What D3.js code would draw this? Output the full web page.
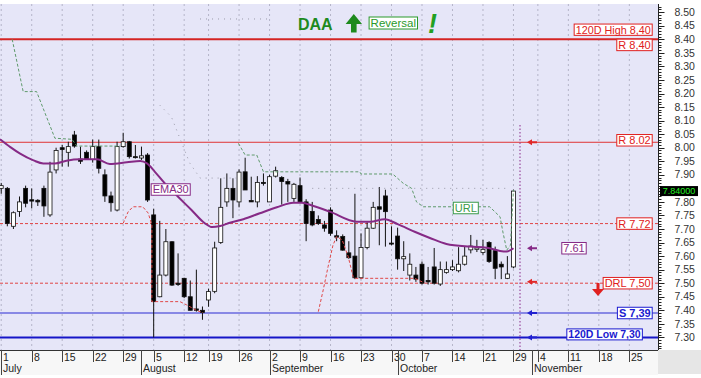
<!doctype html>
<html>
<head>
<script src="https://cdnjs.cloudflare.com/ajax/libs/d3/7.8.5/d3.min.js"></script>
<style>
  body { margin: 0; background: #ffffff; }
  text { font-family: "Liberation Sans", Arial, sans-serif; }
</style>
</head>
<body>
<svg id="chart" width="701" height="378"></svg>
<script>
// trading days shown on the axis (Aug 15 and Oct 28 closed)
var months = ["July", "August", "September", "October", "November"];
var tradingDays = [
  [1,2,3,4,5,8,9,10,11,12,15,16,17,18,19,22,23,24,25,26,29,30,31],
  [1,2,5,6,7,8,9,12,13,14,16,19,20,21,22,23,26,27,28,29,30],
  [2,3,4,5,6,9,10,11,12,13,16,17,18,19,20,23,24,25,26,27,30],
  [1,2,3,4,7,8,9,10,11,14,15,16,17,18,21,22,23,24,25,29,30,31],
  [1,4,5,6,7,8,11,12,13,14,15,18,19,20,21,22,25,26,27,28,29]
];

// daily candles, July 1 .. October 29
var open  = [7.85,7.85,7.71,7.765,7.85,7.808,7.806,7.85,7.752,7.918,8.00,7.983,8.047,7.958,7.983,7.957,8.004,7.90,7.822,7.77,8.004,8.022,7.967,7.962,7.973,
             7.752,7.45,7.53,7.653,7.50,7.518,7.45,7.405,7.40,7.438,7.47,7.65,7.80,7.85,7.80,7.911,7.805,7.80,7.872,
             7.80,7.895,7.89,7.875,7.813,7.86,7.80,7.765,7.735,7.715,7.77,7.675,7.672,7.612,7.60,7.52,7.632,7.703,7.782,7.822,7.648,
             7.674,7.59,7.53,7.53,7.57,7.51,7.56,7.497,7.54,7.55,7.546,7.57,7.623,7.625,7.613,7.65,7.62,7.57,7.518,7.56];
var high  = [7.87,7.855,7.765,7.82,7.86,7.85,7.81,7.86,7.948,8.00,8.01,8.022,8.062,8.004,7.99,8.03,8.03,7.92,7.838,8.022,8.055,8.025,8.01,8.004,7.98,
             7.775,7.73,7.70,7.655,7.61,7.52,7.51,7.55,7.414,7.48,7.653,7.887,7.905,7.887,7.92,7.963,7.893,7.895,7.905,
             7.90,7.93,7.895,7.885,7.87,7.89,7.81,7.80,7.75,7.73,7.78,7.695,7.68,7.655,7.83,7.684,7.725,7.80,7.855,7.845,7.71,
             7.705,7.655,7.61,7.56,7.58,7.56,7.63,7.58,7.58,7.585,7.633,7.635,7.678,7.66,7.66,7.655,7.635,7.58,7.60,7.845];
var low   = [7.83,7.71,7.70,7.745,7.78,7.776,7.785,7.745,7.745,7.905,7.93,7.93,8.00,7.94,7.955,7.945,7.905,7.80,7.764,7.765,8.00,7.96,7.96,7.955,7.80,
             7.30,7.448,7.525,7.49,7.49,7.445,7.40,7.395,7.365,7.413,7.463,7.645,7.782,7.74,7.78,7.844,7.80,7.78,7.86,
             7.80,7.89,7.79,7.80,7.80,7.80,7.655,7.71,7.715,7.69,7.675,7.655,7.62,7.59,7.515,7.515,7.625,7.70,7.64,7.635,7.64,
             7.55,7.545,7.51,7.505,7.495,7.495,7.495,7.49,7.535,7.545,7.54,7.565,7.61,7.615,7.605,7.575,7.515,7.515,7.515,7.555];
var close = [7.86,7.72,7.76,7.80,7.795,7.803,7.80,7.785,7.91,7.99,7.993,8.004,8.006,7.95,7.958,8.004,7.924,7.822,7.797,8.004,8.022,7.967,7.965,7.97,7.807,
             7.432,7.53,7.653,7.493,7.495,7.45,7.40,7.40,7.392,7.469,7.63,7.78,7.85,7.807,7.91,7.844,7.80,7.872,7.868,
             7.893,7.915,7.875,7.866,7.865,7.80,7.72,7.715,7.72,7.703,7.684,7.67,7.622,7.594,7.52,7.632,7.703,7.78,7.773,7.764,7.645,
             7.59,7.598,7.57,7.515,7.50,7.505,7.50,7.55,7.55,7.56,7.57,7.60,7.637,7.63,7.625,7.58,7.555,7.56,7.534,7.84];

// EMA30, [day index, value]
var ema30 = [[-0.2,8.031],[1.5,8.002],[3.1,7.978],[5.3,7.953],[6.9,7.942],[8.8,7.942],[10.7,7.952],[12.9,7.957],[15.7,7.957],
             [17.8,7.940],[20.6,7.946],[22.8,7.951],[23.9,7.942],[25.2,7.911],[26.8,7.869],[29,7.819],[31.2,7.770],[33.4,7.721],
             [34.6,7.707],[35.9,7.711],[37.5,7.723],[39.7,7.736],[42.4,7.758],[45.2,7.780],[47.9,7.797],[49.3,7.797],[51.2,7.785],
             [53.9,7.764],[58.3,7.727],[60.5,7.727],[62.9,7.736],[65,7.718],[67.8,7.690],[70.3,7.667],[73,7.645],[76.9,7.635],
             [79.6,7.631],[81.8,7.619],[82.9,7.617],[84,7.629]];

// reversal levels (stepped trails)
var urlA = [[1.8,8.40],[3.6,8.207],[5.8,8.207],[8.8,8.035],[11.6,8.031],[12.4,8.006],[19.5,8.006]];
var urlB = [[38.9,8.016],[40,7.973],[41.9,7.973],[43,7.911],[58.8,7.911],[59,7.903],[64.2,7.903],[65.9,7.869],[67.3,7.85],
            [68.1,7.80],[69.2,7.782],[80.1,7.782],[81.8,7.745],[82.3,7.685],[82.9,7.622],[83.5,7.64],[84,7.844]];
var drlA = [[20,7.721],[20.8,7.763],[21.6,7.782],[23.2,7.782],[24.1,7.759],[24.7,7.715],[24.7,7.432],[29.3,7.432],
            [30.4,7.42],[32,7.40],[33.1,7.391]];
var drlB = [[52,7.395],[52.8,7.475],[53.6,7.561],[54.4,7.64],[55,7.672],[55.9,7.66],[56.9,7.598],[57.7,7.524],
            [58,7.518],[67.8,7.518],[69.5,7.50]];
var greyA = [[32.6,8.475],[44.3,8.475]];
var greyB = [[26,8.157],[27.9,8.114],[30.9,7.944],[32.6,7.888],[40,7.888]];
var greyC = [[51,7.85],[83.4,7.85]];

// horizontal levels
var levelValues = [8.40, 8.02, 7.72, 7.50, 7.39, 7.30];
var levelLabels = ["R 8,40", "R 8.02", "R 7,72", "DRL 7,50", "S 7,39", "120D Low 7,30"];
var highLabel = "120D High 8,40";
var emaLabel = "7.61";
var lastPrice = "7.84000";
// 7.85 sits under the last-price box, so it is not printed
var yTickValues = [7.30,7.35,7.40,7.45,7.50,7.55,7.60,7.65,7.70,7.75,7.80,7.90,7.95,8.00,
                   8.05,8.10,8.15,8.20,8.25,8.30,8.35,8.40,8.45,8.50];

var svg = d3.select("#chart");
var W = 658, T = 4, B = 350;
var x = d3.scaleLinear().domain([-0.2, 107.7]).range([0, W]);
var y = d3.scaleLinear().domain([7.30, 8.40]).range([337.4, 39.3]);

var days = [];
tradingDays.forEach(function(list, m) {
  list.forEach(function(d) { days.push({m: m, d: d, date: new Date(2019, 6 + m, d)}); });
});
var weekStarts = days.map(function(d, i) { return i; }).filter(function(i) {
  return i == 0 || days[i].date.getDay() < days[i - 1].date.getDay();
});
var monthStarts = days.map(function(d, i) { return i; }).filter(function(i) {
  return i == 0 || days[i].m != days[i - 1].m;
});

svg.append("rect").attr("x", 0).attr("y", T).attr("width", W).attr("height", B - T).attr("fill", "#e6e6f8");
svg.append("clipPath").attr("id", "clip").append("rect").attr("x", 0).attr("y", T).attr("width", W).attr("height", B - T);
var plot = svg.append("g").attr("clip-path", "url(#clip)");

// vertical grid
plot.selectAll("line.grid").data(weekStarts).join("line")
  .attr("x1", function(i) { return x(i); }).attr("x2", function(i) { return x(i); })
  .attr("y1", T).attr("y2", B)
  .attr("stroke", "#a8a8bc").attr("stroke-width", 0.8).attr("stroke-dasharray", "2,3");

// levels
var levelStyle = [
  {c: "#d42424", w: 2, dash: null},
  {c: "#e03434", w: 1, dash: null},
  {c: "#e04444", w: 1, dash: "3,2"},
  {c: "#e04444", w: 1, dash: "3,2"},
  {c: "#2a2ad2", w: 1, dash: null},
  {c: "#1616c8", w: 2, dash: null}
];
plot.selectAll("line.level").data(levelValues).join("line")
  .attr("x1", 0).attr("x2", W)
  .attr("y1", function(v) { return y(v); }).attr("y2", function(v) { return y(v); })
  .attr("stroke", function(v, i) { return levelStyle[i].c; })
  .attr("stroke-width", function(v, i) { return levelStyle[i].w; })
  .attr("stroke-dasharray", function(v, i) { return levelStyle[i].dash; });

// candles
var candles = close.map(function(c, i) { return {i: i, o: open[i], h: high[i], l: low[i], c: c}; });
plot.selectAll("line.wick").data(candles).join("line")
  .attr("x1", function(d) { return x(d.i); }).attr("x2", function(d) { return x(d.i); })
  .attr("y1", function(d) { return y(d.h); }).attr("y2", function(d) { return y(d.l); })
  .attr("stroke", "#111").attr("stroke-width", 1);
plot.selectAll("rect.body").data(candles).join("rect")
  .attr("x", function(d) { return x(d.i) - 2; }).attr("width", 4)
  .attr("y", function(d) { return y(Math.max(d.o, d.c)); })
  .attr("height", function(d) { return Math.max(1, Math.abs(y(d.o) - y(d.c))); })
  .attr("fill", function(d) { return d.c >= d.o ? "#ffffff" : "#000000"; })
  .attr("stroke", "#111").attr("stroke-width", 0.8);

var line = d3.line().x(function(p) { return x(p[0]); }).y(function(p) { return y(p[1]); });
[greyA, greyB, greyC].forEach(function(s) {
  plot.append("path").attr("d", line(s)).attr("fill", "none")
    .attr("stroke", "#9a9aa8").attr("stroke-width", 1).attr("stroke-dasharray", "1,5");
});
[drlA, drlB].forEach(function(s) {
  plot.append("path").attr("d", line(s)).attr("fill", "none")
    .attr("stroke", "#e04848").attr("stroke-width", 1).attr("stroke-dasharray", "3,2");
});
[urlA, urlB].forEach(function(s) {
  plot.append("path").attr("d", line(s)).attr("fill", "none")
    .attr("stroke", "#5f9a6c").attr("stroke-width", 1).attr("stroke-dasharray", "3,2");
});
plot.append("path").attr("d", line.curve(d3.curveMonotoneX)(ema30)).attr("fill", "none")
  .attr("stroke", "#862a86").attr("stroke-width", 2);

// today marker
plot.append("line").attr("x1", 520).attr("x2", 520).attr("y1", 125).attr("y2", B)
  .attr("stroke", "#8a2a8a").attr("stroke-width", 1).attr("stroke-dasharray", "1.5,2");

// little arrows pointing at the levels
var arrowLevels = [[8.02, "#e02828"], [7.629, "#862a86"], [7.505, "#e02828"], [7.39, "#2020d0"], [7.30, "#2020d0"]];
arrowLevels.forEach(function(a) {
  var yy = y(a[0]);
  svg.append("path").attr("d", "M527," + yy + "L532," + (yy - 3) + "L532," + (yy + 3) + "Z").attr("fill", a[1]);
  svg.append("line").attr("x1", 531).attr("x2", 537).attr("y1", yy).attr("y2", yy)
    .attr("stroke", a[1]).attr("stroke-width", 2);
});

// red down arrow
svg.append("rect").attr("x", 596.5).attr("y", 283).attr("width", 3).attr("height", 6).attr("fill", "#e02020");
svg.append("path").attr("d", "M592,289L604,289L598,296Z").attr("fill", "#e02020");

function tag(txt, xp, cy, anchor, color, weight, size) {
  size = size || 11;
  var g = svg.append("g");
  var t = g.append("text").attr("x", xp).attr("y", cy).attr("dy", "0.36em").attr("text-anchor", anchor)
    .attr("fill", color).style("font-size", size + "px").style("font-weight", weight).text(txt);
  var b = t.node().getBBox();
  var h = size + 0.5;
  g.insert("rect", "text").attr("x", b.x - 1.5).attr("y", cy - h / 2).attr("width", b.width + 3).attr("height", h)
    .attr("fill", "#ffffff").attr("stroke", color).attr("stroke-width", 1);
}
tag(highLabel, 650.7, y(8.40) - 9.6, "end", "#e02020", "normal", 10.8);
tag(levelLabels[0], 650.7, y(8.40) + 5.6, "end", "#e02020", "normal");
tag(levelLabels[1], 650.7, y(8.02) - 2, "end", "#e02020", "normal");
tag(levelLabels[2], 650.7, y(7.72), "end", "#e02020", "normal");
tag(levelLabels[3], 650.7, y(7.50), "end", "#e02020", "normal");
tag(levelLabels[4], 650.7, y(7.39), "end", "#1a1ad0", "bold");
tag(levelLabels[5], 640.7, y(7.30) - 3, "end", "#1a1ad0", "bold", 10.5);
tag(emaLabel, 574, y(7.629), "middle", "#862a86", "normal");
tag("EMA30", 170.7, 189.5, "middle", "#862a86", "normal");
tag("URL", 465.8, 208, "middle", "#3a9a4a", "normal");

// title
svg.append("text").attr("x", 298).attr("y", 30).attr("fill", "#1e8a1e")
  .style("font-size", "16px").style("font-weight", "bold").text("DAA");
svg.append("path").attr("d", "M353.8,14L362,24L356.6,24L356.6,32.5L351,32.5L351,24L345.6,24Z").attr("fill", "#1e8a1e");
tag("Reversal", 393.3, 23, "middle", "#2a9a2a", "normal", 11.5);
svg.append("text").attr("x", 428).attr("y", 33).attr("fill", "#22a022")
  .style("font-size", "27px").style("font-weight", "bold").style("font-style", "italic").text("!");

// x axis band
svg.append("rect").attr("x", 0).attr("y", B).attr("width", W).attr("height", 25).attr("fill", "#f7f7f7");
svg.append("rect").attr("x", W).attr("y", B).attr("width", 701 - W).attr("height", 24).attr("fill", "#e6e6e6");
svg.append("line").attr("x1", 0).attr("x2", W).attr("y1", B + 0.5).attr("y2", B + 0.5).attr("stroke", "#333");
var xa = svg.append("g");
weekStarts.forEach(function(i) {
  var xx = Math.round(x(i)) + 0.5;
  xa.append("line").attr("x1", xx).attr("x2", xx).attr("y1", B).attr("y2", B + 12).attr("stroke", "#444");
  xa.append("text").attr("x", xx + 1.5).attr("y", B + 10.5).attr("fill", "#222")
    .style("font-size", "10.5px").text(days[i].d);
});
monthStarts.forEach(function(i) {
  var xx = Math.round(x(i)) + 0.5;
  xa.append("line").attr("x1", xx).attr("x2", xx).attr("y1", B).attr("y2", B + 25).attr("stroke", "#444");
  xa.append("text").attr("x", xx + 1.5).attr("y", B + 22).attr("fill", "#222")
    .style("font-size", "10.5px").text(months[days[i].m]);
});

// y axis on the right
var ya = svg.append("g").attr("transform", "translate(" + (W + 0.5) + ",0)");
ya.append("line").attr("y1", T).attr("y2", B).attr("stroke", "#222");
ya.selectAll("line.minor").data(d3.range(726, 853).map(function(v) { return v / 100; })).join("line")
  .attr("x1", 0).attr("x2", 3)
  .attr("y1", function(v) { return Math.round(y(v)) + 0.5; }).attr("y2", function(v) { return Math.round(y(v)) + 0.5; })
  .attr("stroke", "#222");
ya.selectAll("line.major").data(yTickValues).join("line")
  .attr("x1", 0).attr("x2", 6)
  .attr("y1", function(v) { return Math.round(y(v)) + 0.5; }).attr("y2", function(v) { return Math.round(y(v)) + 0.5; })
  .attr("stroke", "#222");
ya.selectAll("text").data(yTickValues).join("text")
  .attr("x", 16).attr("y", function(v) { return y(v); }).attr("dy", "0.35em")
  .attr("fill", "#333").style("font-size", "10.5px")
  .text(function(v) { return v.toFixed(2); });

// last price box
svg.append("rect").attr("x", 660).attr("y", y(7.84) - 5).attr("width", 38).attr("height", 10).attr("fill", "#000");
svg.append("text").attr("x", 679).attr("y", y(7.84)).attr("dy", "0.36em").attr("text-anchor", "middle")
  .attr("fill", "#22ee22").style("font-size", "9px").text(lastPrice);
</script>
</body>
</html>
